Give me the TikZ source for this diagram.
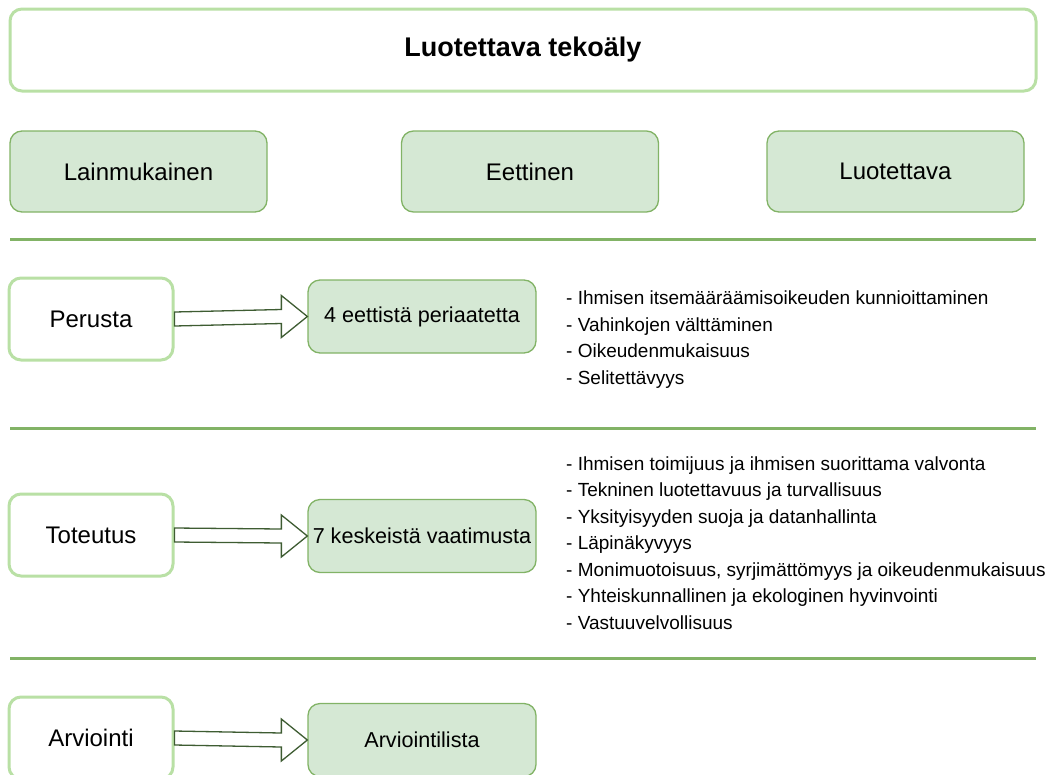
\documentclass[tikz,border=0pt]{standalone}
\usepackage{fontspec}
\setmainfont{Liberation Sans}
\usetikzlibrary{calc}

\definecolor{lightgreen}{HTML}{B9E0A5}
\definecolor{midgreen}{HTML}{82B366}
\definecolor{palegreen}{HTML}{D5E8D4}
\definecolor{arrowline}{HTML}{3E5C32}

\tikzset{
	headbox/.style={draw=lightgreen, line width=3pt, fill=white, rounded corners=12pt,
		minimum width=1026, minimum height=82, font=\fontsize{27}{32}\selectfont\bfseries},
	pillar/.style={draw=midgreen, line width=1.3pt, fill=palegreen, rounded corners=12pt,
		minimum width=257, minimum height=81, font=\fontsize{24}{28}\selectfont},
	stagebox/.style={draw=lightgreen, line width=3pt, fill=white, rounded corners=12pt,
		minimum width=164, minimum height=82, font=\fontsize{24}{28}\selectfont},
	resultbox/.style={draw=midgreen, line width=1.3pt, fill=palegreen, rounded corners=12pt,
		minimum width=228, minimum height=73, inner sep=2pt, font=\fontsize{21.6}{26}\selectfont},
	itemlist/.style={anchor=west, align=left, inner sep=0pt, font=\fontsize{19}{26.5}\selectfont},
	separator/.style={draw=midgreen, line width=3pt},
	blockarrow/.style={draw=arrowline, line width=1.3pt, fill=white, line join=miter,
		to path={let \p1=(\tikztostart), \p2=(\tikztotarget) in
			(\x1,\y1+7pt) -- (\x2-26pt,\y2+7pt) -- (\x2-26pt,\y2+21pt) -- (\x2,\y2)
			-- (\x2-26pt,\y2-21pt) -- (\x2-26pt,\y2-7pt) -- (\x1,\y1-7pt) -- cycle}}
}

\begin{document}
\begin{tikzpicture}[x=1pt,y=-1pt]
	\useasboundingbox (0,0) rectangle (1046,774);

	\node[headbox] (title) at (523,50) {Luotettava tekoäly};

	\node[pillar] (lainmukainen) at (138.5,171.5) {Lainmukainen};
	\node[pillar] (eettinen) at (530,171.5) {Eettinen};
	\node[pillar] (luotettava) at (895.5,171.5) {Luotettava};

	\draw[separator] (10,239) -- (1036,239);

	% perusta
	\node[stagebox] (perusta) at (91,319) {Perusta};
	\node[resultbox] (periaatteet) at (422,316.5) {4 eettistä periaatetta};
	\draw[blockarrow] (perusta.east) to (periaatteet.west);
	\node[itemlist] (periaatelista) at (566,339.5) {- Ihmisen itsemääräämisoikeuden kunnioittaminen\\
		- Vahinkojen välttäminen\\
		- Oikeudenmukaisuus\\
		- Selitettävyys};

	\draw[separator] (10,428) -- (1036,428);

	% toteutus
	\node[stagebox] (toteutus) at (91,535) {Toteutus};
	\node[resultbox] (vaatimukset) at (422,536) {7 keskeistä vaatimusta};
	\draw[blockarrow] (toteutus.east) to (vaatimukset.west);
	\node[itemlist] (vaatimuslista) at (566,543) {- Ihmisen toimijuus ja ihmisen suorittama valvonta\\
		- Tekninen luotettavuus ja turvallisuus\\
		- Yksityisyyden suoja ja datanhallinta\\
		- Läpinäkyvyys\\
		- Monimuotoisuus, syrjimättömyys ja oikeudenmukaisuus\\
		- Yhteiskunnallinen ja ekologinen hyvinvointi\\
		- Vastuuvelvollisuus};

	\draw[separator] (10,658) -- (1036,658);

	% arviointi
	\node[stagebox] (arviointi) at (91,738) {Arviointi};
	\node[resultbox] (arviointilista) at (422,740) {Arviointilista};
	\draw[blockarrow] (arviointi.east) to (arviointilista.west);
\end{tikzpicture}
\end{document}
